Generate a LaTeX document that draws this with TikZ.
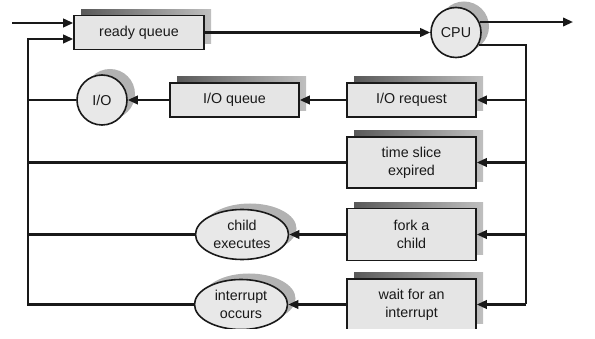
\documentclass[tikz,border=0pt]{standalone}
\usepackage{fontspec}
\setmainfont{Liberation Sans}
\usetikzlibrary{arrows.meta,shapes.geometric,shadows}
\begin{document}
\begin{tikzpicture}[x=1pt,y=-1pt,
  every node/.style={font=\fontsize{14.3}{18}\selectfont, align=center, inner sep=0pt, text=black!90},
  conn/.style={line width=2.2pt, draw=black!90},
  arr/.style={conn, -{Triangle[length=10pt,width=8.5pt]}},
  boxshadow/.style={general shadow={shadow xshift=7pt, shadow yshift=6pt, left color=black!65, right color=black!25}},
  ovshadow/.style={general shadow={shadow xshift=8pt, shadow yshift=6pt, fill=black!30}},
  qbox/.style={rectangle, draw=black!90, line width=1.6pt, fill=gray!20, minimum width=129pt, boxshadow},
  circ/.style={circle, draw=black!90, line width=1.6pt, fill=gray!18, minimum size=50pt, ovshadow},
  oval/.style={ellipse, draw=black!90, line width=1.6pt, fill=gray!18, minimum width=93pt, minimum height=50pt, ovshadow},
]
\useasboundingbox (0,0) rectangle (595,339);
\clip (0,0) rectangle (595,329);
% nodes
\node[qbox, minimum width=130pt, minimum height=34pt] (ready) at (139,32.5) {ready queue};
\node[circ] (cpu) at (456,32.5) {CPU};
\node[qbox, minimum height=34pt] (iorq) at (411.5,100) {I/O request};
\node[qbox, minimum height=34pt] (ioq) at (234.5,100) {I/O queue};
\node[circ] (io) at (102,100) {I/O};
\node[qbox, minimum height=51pt] (slice) at (411.5,162.5) {time slice\\expired};
\node[qbox, minimum height=52pt] (fork) at (411.5,234.5) {fork a\\child};
\node[oval] (child) at (242,234.5) {child\\executes};
\node[qbox, minimum height=51pt] (wait) at (411.5,304.5) {wait for an\\interrupt};
\node[oval] (intr) at (241,304.5) {interrupt\\occurs};
\coordinate (in) at (12,23);
\coordinate (lb) at (28,39);
\coordinate (rv) at (526,45);
\coordinate (out) at (573,23);
% connectors
\draw[arr] (in) -- (in -| ready.west);
\draw[arr] (ready.east) -- (cpu.west);
\draw[arr] (cpu.24) -- (cpu.24 -| out);
\draw[conn] (cpu.-29) -| (rv |- wait.east);
\draw[arr] (rv |- iorq.east) -- (iorq.east);
\draw[arr] (rv |- slice.east) -- (slice.east);
\draw[arr] (rv |- fork.east) -- (fork.east);
\draw[arr] (rv |- wait.east) -- (wait.east);
\draw[arr] (iorq.west) -- (ioq.east);
\draw[arr] (ioq.west) -- (io.east);
\draw[arr] (fork.west) -- (child.east);
\draw[arr] (wait.west) -- (intr.east);
\draw[arr] (intr.west) -| (lb) -- (lb -| ready.west);
\draw[conn] (io.west) -- (io.west -| lb);
\draw[conn] (slice.west) -- (slice.west -| lb);
\draw[conn] (child.west) -- (child.west -| lb);
\end{tikzpicture}
\end{document}
